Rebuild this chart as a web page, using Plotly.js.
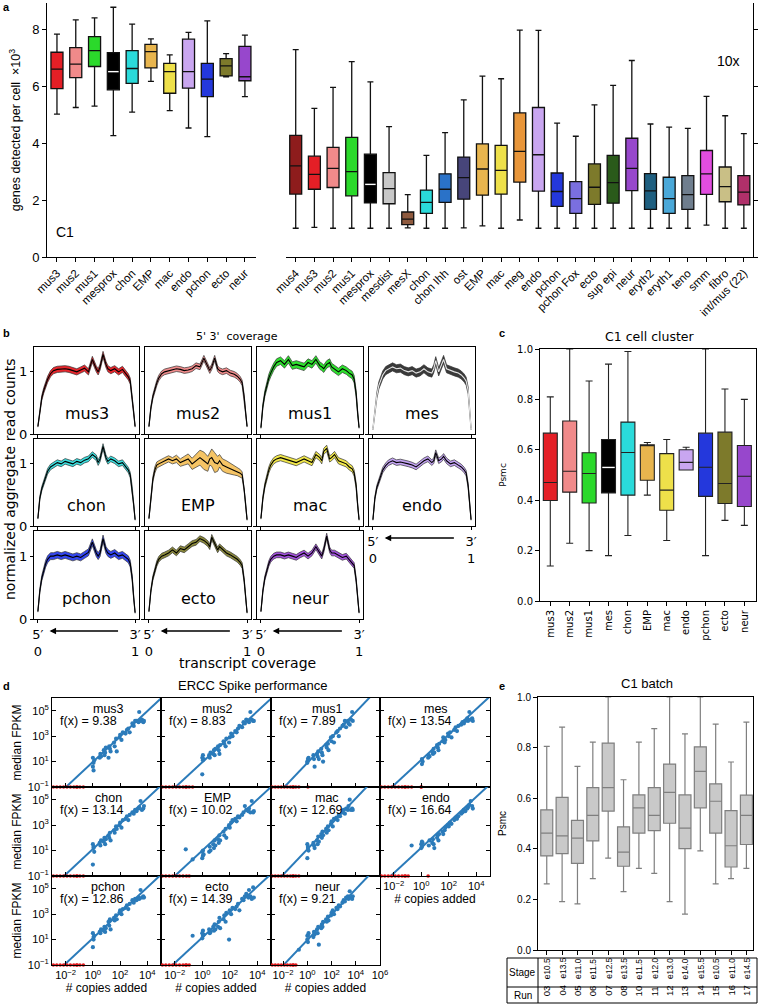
<!DOCTYPE html>
<html><head><meta charset="utf-8">
<script src="https://cdn.plot.ly/plotly-3.0.1.min.js"></script>
<style>html,body{margin:0;padding:0;background:#fff}#chart{width:758px;height:1007px}</style>
</head><body><div id="chart"></div>
<script>
// ---------------- DATA ----------------
// Panel a (left, C1): genes detected per cell x10^3
const aLeftCats  = ['mus3','mus2','mus1','mesprox','chon','EMP','mac','endo','pchon','ecto','neur'];
const aLeftUpper = [7.83,8.33,8.40,8.77,8.18,7.66,7.10,7.89,8.29,7.14,7.79];
const aLeftQ3    = [7.19,7.35,7.74,7.18,7.25,7.47,6.80,7.65,6.80,6.97,7.40];
const aLeftMed   = [6.60,6.77,7.25,6.51,6.62,7.21,6.51,6.51,6.25,6.71,6.33];
const aLeftQ1    = [5.91,6.30,6.69,5.87,6.10,6.64,5.75,5.93,5.63,6.36,6.19];
const aLeftLower = [5.02,5.25,5.30,4.26,5.09,6.17,5.14,4.53,4.23,6.33,5.63];
const aLeftColors= ['#e41f26','#f08a8a','#2bd92b','#000000','#2adada','#e8b54e','#eee04a','#c9a6f0','#2438dc','#7d7a2b','#9747cc'];

// Panel a (right, 10x)
const aRightCats  = ['mus4','mus3','mus2','mus1','mesprox','mesdist','mesX','chon','chon Ihh','ost','EMP','mac','meg','endo','pchon','pchon Fox','ecto','sup epi','neur','eryth2','eryth1','teno','smm','fibro','int/mus (22)'];
const aRightUpper = [7.28,5.22,5.96,6.86,6.15,4.58,2.19,3.57,4.37,5.52,6.35,6.26,7.97,7.96,4.70,4.24,5.34,6.03,6.90,4.67,4.56,4.52,5.64,4.96,4.33];
const aRightQ3    = [4.27,3.54,3.85,4.20,3.61,2.96,1.58,2.35,2.92,3.51,3.97,3.92,5.06,5.25,2.95,2.65,3.27,3.57,4.17,2.93,2.80,2.86,3.74,3.16,2.86];
const aRightMed   = [3.20,2.90,3.11,3.00,2.55,2.40,1.33,1.92,2.38,2.79,3.09,3.04,3.71,3.59,2.30,2.05,2.45,2.61,3.11,2.32,2.05,2.19,2.92,2.47,2.28];
const aRightQ1    = [2.21,2.38,2.44,2.15,1.90,1.87,1.14,1.53,1.92,2.03,2.17,2.21,2.63,2.31,1.78,1.53,1.85,1.89,2.33,1.67,1.53,1.67,2.20,1.94,1.83];
const aRightLower = [1.01,1.04,1.01,1.01,1.01,1.01,1.02,1.01,1.01,1.02,1.09,1.01,1.30,1.01,1.01,1.01,1.01,1.01,1.01,1.01,1.01,1.01,1.12,1.01,1.01];
const aRightColors= ['#8e1c1c','#e41f26','#f08a8a','#2bd92b','#000000','#c8c8c8','#8f5a3e','#2adada','#2a72c8','#47457a','#e8b54e','#eee04a','#e8963a','#c9a6f0','#2438dc','#7a6fe0','#7d7a2b','#2a5a1a','#9747cc','#1e5f80','#4aa8d8','#6f7e8e','#e24de0','#c9bf86','#b0306a'];

// Panel b: 5'-3' coverage (transcript position 0..1)
const bNames  = ['mus3','mus2','mus1','mes','chon','EMP','mac','endo','pchon','ecto','neur'];
const bColors = ['#e8262c','#f08c8c','#2ee02e','#3a3a3a','#3ce0e0','#f5c465','#f2e84a','#c3a3f2','#3346ee','#8c8a3c','#a352de'];
const bPos = [0,0.02,0.04,0.06,0.08,0.1,0.13,0.16,0.2,0.24,0.28,0.32,0.36,0.4,0.44,0.48,0.52,0.56,0.6,0.62,0.64,0.67,0.7,0.72,0.75,0.79,0.83,0.87,0.9,0.93,0.95,0.97,0.985,1.0];
const covMus3 = [0.12,0.4,0.58,0.7,0.8,0.88,0.97,1.02,1.04,1.05,1.05,1.04,1.02,1.0,1.03,1.06,1.0,1.2,1.05,1.0,1.08,1.28,1.12,1.05,1.02,1.05,1.0,1.04,0.98,0.92,0.85,0.6,0.35,0.12];
const covMus2 = [0.12,0.42,0.6,0.72,0.82,0.9,0.97,1.0,1.02,1.03,1.05,1.04,1.02,1.03,1.05,1.1,1.08,1.22,1.1,1.02,1.08,1.22,1.05,1.02,1.0,1.02,0.98,0.96,0.93,0.88,0.82,0.6,0.35,0.12];
const covMus1 = [0.1,0.45,0.65,0.8,0.9,0.98,1.08,1.15,1.18,1.12,1.2,1.1,1.12,1.1,1.08,1.15,1.12,1.2,1.1,1.08,1.05,1.12,1.15,1.08,1.05,1.0,1.05,1.02,0.98,0.95,0.88,0.65,0.35,0.1];
const covMes  = [0.08,0.4,0.62,0.78,0.88,0.95,1.02,1.05,1.08,1.05,1.06,1.02,1.0,1.02,0.98,1.0,1.05,1.0,0.98,1.05,1.18,1.0,1.12,1.2,1.05,1.02,1.0,0.98,0.95,0.9,0.85,0.7,0.35,0.08];
const covChon = [0.12,0.45,0.6,0.7,0.8,0.88,0.95,0.98,1.02,1.0,1.04,1.02,1.0,1.04,1.02,1.06,1.08,1.15,1.1,1.02,1.08,1.28,1.1,1.04,1.08,1.05,1.0,1.02,0.95,0.9,0.82,0.6,0.35,0.1];
const covEMP  = [0.12,0.5,0.75,0.9,0.98,1.0,1.02,1.05,1.08,1.05,1.08,1.02,1.05,1.08,1.0,1.05,1.1,1.05,1.0,1.08,1.1,1.02,1.0,1.05,0.98,0.95,0.92,0.9,0.88,0.85,0.82,0.6,0.35,0.1];
const covMac  = [0.12,0.45,0.65,0.8,0.9,0.98,1.05,1.08,1.1,1.08,1.06,1.05,1.02,1.05,1.08,1.05,1.02,1.15,1.1,1.05,1.2,1.25,1.08,1.1,1.15,1.05,1.02,1.0,0.95,0.92,0.85,0.65,0.35,0.1];
const covEndo = [0.1,0.45,0.62,0.72,0.82,0.9,0.97,1.02,1.05,1.02,1.03,1.02,1.0,0.98,0.95,1.0,1.05,1.08,1.02,1.05,1.18,1.05,1.08,1.12,1.05,1.0,1.02,0.98,0.95,0.9,0.85,0.65,0.35,0.1];
const covPchon= [0.12,0.45,0.65,0.78,0.88,0.95,1.0,1.0,1.02,1.0,1.02,1.0,0.98,1.0,0.98,1.02,1.06,1.22,1.05,1.0,1.05,1.28,1.1,1.05,1.02,1.05,1.0,1.02,0.98,0.95,0.88,0.65,0.35,0.1];
const covEcto = [0.12,0.45,0.65,0.78,0.88,0.95,1.0,1.02,1.05,1.1,1.05,1.12,1.1,1.15,1.2,1.22,1.28,1.25,1.2,1.15,1.3,1.2,1.1,1.15,1.1,1.05,1.02,0.98,0.95,0.9,0.85,0.62,0.35,0.1];
const covNeur = [0.12,0.45,0.65,0.78,0.88,0.95,1.0,1.02,1.02,1.0,1.02,1.0,0.98,1.02,1.05,1.0,1.05,1.15,1.05,1.0,1.1,1.32,1.1,1.05,1.05,1.02,0.98,1.0,0.95,0.9,0.85,0.62,0.35,0.1];
const bandShape = [0.2,0.6,0.8,0.9, 1,1,1,1,1, 1,1,1,1,1, 1,1,1,1,1, 1,1,1,1,1, 1,1,1,1,1, 1,1, 0.9,0.6,0.2];
const bSpread = [0.05,0.045,0.06,0.065,0.045,0,0.05,0.045,0.055,0.045,0.045];
const bandEMP = [0.01,0.03,0.04,0.05,0.05,0.05,0.05,0.05,0.05,0.05,0.06,0.06,0.07,0.08,0.09,0.1,0.12,0.14,0.12,0.1,0.14,0.16,0.12,0.1,0.1,0.1,0.09,0.08,0.07,0.06,0.05,0.04,0.03,0.01];

// Panel c: Psmc per C1 cluster
const cCats  = ['mus3','mus2','mus1','mes','chon','EMP','mac','endo','pchon','ecto','neur'];
const cUpper = [0.81,1.0,0.873,0.94,0.99,0.629,0.641,0.61,1.0,0.841,0.80];
const cQ3    = [0.666,0.714,0.588,0.641,0.71,0.62,0.585,0.60,0.666,0.67,0.617];
const cMed   = [0.47,0.515,0.506,0.53,0.589,0.62,0.44,0.55,0.531,0.466,0.495];
const cQ1    = [0.399,0.432,0.389,0.429,0.42,0.479,0.36,0.52,0.415,0.387,0.375];
const cLower = [0.139,0.229,0.2,0.18,0.26,0.42,0.24,0.52,0.18,0.32,0.30];
const cColors= ['#e41f26','#f08a8a','#2bd92b','#000000','#2adada','#e8b54e','#eee04a','#c9a6f0','#2438dc','#7d7a2b','#9747cc'];

// Panel d: ERCC spike-ins (log10 copies added / log10 median FPKM, null = not detected)
const dNames = ['mus3','mus2','mus1','mes','chon','EMP','mac','endo','pchon','ecto','neur'];
const dSlope = [9.38,8.83,7.89,13.54,13.14,10.02,12.69,16.64,12.86,14.39,9.21];
const erccUndetLog10 = [-2.9,-2.65,-2.4,-2.15,-1.9,-1.65,-1.4,-1.15,-0.95];
const erccLog10Copies = [-1.2,-0.7, 0.0,0.0,0.05,0.05,0.1, 0.5,0.55,0.6, 0.8,0.85,0.9,0.95, 1.15,1.2,1.25,1.3, 1.55,1.6,1.7,1.75, 1.95,2.0,2.1,2.2, 2.4,2.5,2.6,2.7, 2.9,3.0,3.1,3.2, 3.35,3.4,3.5,3.6,3.7,3.75];
const fpkmMus3 = [null,null, 1.3,0.6,0.9,0.3,1.1, 1.3,1.6,1.4, 1.9,1.5,1.7,2.1, 1.3,2.2,2.0,1.8, 2.5,2.2,2.8,1.8, 2.9,3.1,2.7,3.3, 3.2,3.5,3.6,3.3, 4.0,3.8,4.2,4.2, 4.1,4.9,4.2,4.3,4.1,4.2];
const fpkmMus2 = [null,null, 1.3,0.0,1.1,1.5,1.2, 1.5,1.3,1.7, 1.6,1.9,1.5,2.0, 2.2,1.9,1.6,2.3, 2.6,2.4,2.2,2.8, 2.5,2.9,3.2,3.0, 3.4,3.3,3.6,3.8, 3.7,4.1,4.0,4.3, 4.2,4.1,4.9,4.3,4.2,4.2];
const fpkmMus1 = [null,null, 0.9,1.0,1.2,null,1.3, 1.5,1.2,0.6, 1.6,1.4,1.8,1.2, 2.0,1.7,1.5,1.0, 2.3,2.1,2.4,1.9, 2.9,2.6,3.0,2.5, 3.3,3.4,3.0,3.6, 3.8,3.9,4.2,3.7, 4.2,4.0,3.9,4.3,4.9,4.2];
const fpkmMes  = [null,null, null,null,1.2,0.8,1.0, 1.3,1.5,1.4, 1.8,1.6,2.0,1.7, 2.3,2.1,1.9,2.4, 2.6,2.9,2.5,2.7, 3.2,3.0,3.3,2.9, 3.5,3.7,3.4,3.8, 3.9,4.1,4.0,4.2, 4.4,4.2,4.9,4.3,4.4,4.2];
const fpkmChon = [null,null, 1.5,-0.1,1.2,1.3,0.9, 1.6,1.4,1.8, 1.7,2.0,1.5,1.9, 2.2,2.0,2.4,1.8, 2.6,2.4,2.9,2.7, 3.0,3.2,2.8,3.4, 3.5,3.7,3.4,3.8, 4.0,3.9,4.2,4.1, 4.3,4.4,4.9,4.2,4.3,4.5];
const fpkmEMP  = [1.1,0.3, 0.4,0.9,0.6,1.0,0.7, 0.9,1.3,1.0, 1.5,1.2,1.8,1.4, 1.9,1.6,2.2,1.8, 2.5,2.2,2.7,2.0, 3.0,2.8,3.2,3.4, 3.5,3.3,3.7,3.6, 3.8,4.0,4.5,4.2, 4.1,4.3,4.0,4.9,4.0,4.1];
const fpkmMac  = [null,null, 1.5,0.4,1.2,1.3,1.0, 1.6,1.4,1.2, 1.8,1.5,2.1,1.7, 2.3,2.0,2.5,2.2, 2.7,2.4,2.9,2.6, 3.1,3.3,2.9,3.5, 3.6,3.4,3.8,3.7, 4.0,4.2,3.9,4.3, 4.2,4.5,5.0,4.2,4.3,4.2];
const fpkmEndo = [null,1.4, 1.5,1.2,1.7,1.3,1.6, null,1.4,1.8, 1.6,1.9,1.5,1.2, 2.0,2.2,1.8,2.3, 2.5,2.3,2.6,2.8, 3.0,2.9,3.2,3.1, 3.4,3.6,3.5,3.7, 3.9,4.0,4.2,4.1, 4.3,4.4,4.6,4.9,4.5,4.3];
const fpkmPchon= [null,null, 1.5,0.4,1.2,1.0,1.3, 1.6,1.5,1.8, 1.7,2.0,1.6,1.9, 2.4,2.1,2.6,1.8, 2.7,2.5,2.9,2.6, 3.1,3.3,3.0,3.4, 3.5,3.7,3.4,3.8, 4.1,3.9,4.2,4.1, 4.3,4.2,4.9,4.3,4.4,4.3];
const fpkmEcto = [null,1.3, 1.5,1.1,1.7,1.3,1.4, 1.8,1.5,1.6, 2.0,1.7,2.2,1.8, 2.0,2.4,2.7,1.9, 2.6,2.9,2.4,3.1, 1.0,3.3,3.0,3.5, 3.4,3.6,3.8,3.3, 4.2,4.1,4.4,4.6, 4.3,4.9,4.4,4.2,5.1,4.3];
const fpkmNeur = [null,0.2, 1.0,1.3,1.3,0.8,1.5, 1.2,1.6,1.4, 1.8,1.5,2.0,0.6, 1.9,2.2,2.0,2.4, 2.6,2.4,2.8,2.5, 2.9,3.1,3.3,3.0, 3.5,3.4,3.7,3.6, 3.9,4.1,4.0,4.3, 4.4,4.2,4.8,4.3,4.2,4.4];

// Panel e: Psmc per C1 run
const eRun   = ['03','04','05','06','07','08','10','11','12','13','14','15','16','17'];
const eStage = ['e10.5','e13.5','e11.0','e11.5','e12.5','e13.5','e11.5','e12.0','e13.0','e14.0','e15.5','e10.5','e11.0','e14.5'];
const eUpper = [0.805,0.881,0.726,0.822,1.0,0.673,0.822,0.875,1.0,0.854,1.0,0.893,0.743,0.901];
const eQ3    = [0.554,0.603,0.512,0.642,0.818,0.487,0.613,0.642,0.735,0.613,0.803,0.657,0.551,0.612];
const eMed   = [0.462,0.451,0.442,0.532,0.642,0.387,0.562,0.532,0.623,0.482,0.706,0.588,0.412,0.532];
const eQ1    = [0.372,0.381,0.342,0.431,0.549,0.331,0.462,0.472,0.501,0.401,0.562,0.462,0.328,0.417];
const eLower = [0.261,0.191,0.182,0.282,0.363,0.231,0.323,0.303,0.191,0.142,0.392,0.261,0.282,0.323];

// ---------------- BUILD ----------------
const W=758,H=1007;
const fx=p=>p/W, fy=p=>1-p/H;
const SANS='Liberation Sans, Arial, sans-serif', DJ='DejaVu Sans, sans-serif';
const layout={width:W,height:H,margin:{l:0,r:0,t:0,b:0,pad:0},showlegend:false,
  paper_bgcolor:'#fff',plot_bgcolor:'rgba(0,0,0,0)',annotations:[],shapes:[],
  font:{family:SANS,color:'#000'}};
const data=[];
let nAx=0;
const base={showgrid:false,zeroline:false,showline:true,linecolor:'#000',linewidth:1,ticks:'outside',
  ticklen:4,tickwidth:1,tickcolor:'#000',fixedrange:true,automargin:false};
function mkAxes(x0,x1,y0,y1,xo,yo){
  nAx++; const id=nAx===1?'':String(nAx);
  layout['xaxis'+id]=Object.assign({},base,{domain:[fx(x0),fx(x1)],anchor:'y'+id},xo);
  layout['yaxis'+id]=Object.assign({},base,{domain:[fy(y1),fy(y0)],anchor:'x'+id},yo);
  return {x:'x'+id,y:'y'+id};
}
function ann(o){layout.annotations.push(Object.assign({showarrow:false,xref:'paper',yref:'paper'},o));}
function txt(px,py,text,size,fam,extra){
  ann(Object.assign({x:fx(px),y:fy(py),text:text,font:{size:size,family:fam,color:'#000'},xanchor:'center',yanchor:'middle'},extra||{}));
}
function addBox(ax,i,lo,q1,med,q3,hi,fill,edge,w,lw){
  data.push({type:'box',xaxis:ax.x,yaxis:ax.y,x:[i],q1:[q1],median:[med],q3:[q3],lowerfence:[lo],upperfence:[hi],
    fillcolor:fill,line:{color:edge,width:lw},width:w,whiskerwidth:0.5,boxpoints:false,hoverinfo:'skip'});
  if(fill==='#000000'){
    data.push({type:'scatter',mode:'lines',xaxis:ax.x,yaxis:ax.y,x:[i-w/2+0.04,i+w/2-0.04],y:[med,med],line:{color:'#fff',width:1.4},hoverinfo:'skip'});
  }
}
const idx=a=>a.map((_,i)=>i);

// ---- Panel a left ----
const aL=mkAxes(47,256,3,257,
  {range:[-0.53,10.59],tickvals:idx(aLeftCats),ticktext:aLeftCats,tickangle:-45,tickfont:{size:11.5,family:SANS}},
  {range:[0,8.92],tickvals:[0,2,4,6,8],tickfont:{size:13,family:SANS},
   title:{text:'genes detected per cell  ×10<sup>3</sup>',font:{size:12.5,family:SANS},standoff:8}});
aLeftCats.forEach((c,i)=>addBox(aL,i,aLeftLower[i],aLeftQ1[i],aLeftMed[i],aLeftQ3[i],aLeftUpper[i],aLeftColors[i],'#111',0.64,1.3));
// ---- Panel a right ----
const aR=mkAxes(286,753,3,257,
  {range:[-0.52,24.49],tickvals:idx(aRightCats),ticktext:aRightCats,tickangle:-45,tickfont:{size:11.5,family:SANS}},
  {side:'right',range:[0,8.92],tickvals:[0,2,4,6,8],showticklabels:false});
aRightCats.forEach((c,i)=>addBox(aR,i,aRightLower[i],aRightQ1[i],aRightMed[i],aRightQ3[i],aRightUpper[i],aRightColors[i],'#111',0.64,1.3));
txt(6,7,'<b>a</b>',11,SANS);
txt(65,232,'C1',14,SANS);
txt(728,61,'10x',14,SANS);

// ---- Panel b ----
const bCols=[[34,139],[145,251],[257,363],[369,475]], bRows=[[347,434],[439,526],[531,619]];
const bCov=[covMus3,covMus2,covMus1,covMes,covChon,covEMP,covMac,covEndo,covPchon,covEcto,covNeur];
bNames.forEach((nm,k)=>{
  const r=Math.floor(k/4), c=k%4;
  const showX=(r===2||nm==='endo');
  const ax=mkAxes(bCols[c][0],bCols[c][1],bRows[r][0],bRows[r][1],
    {range:[-0.04,1.04],tickvals:[0,1],ticktext:['5′<br>0','3′<br>1'],showticklabels:showX,mirror:true,ticklen:3,tickfont:{size:13,family:DJ}},
    {range:[0,1.4],tickvals:[0,1],showticklabels:c===0,mirror:true,ticklen:3,tickfont:{size:13,family:DJ}});
  const m=bCov[k];
  const hw=nm==='EMP'?bandEMP:bandShape.map(s=>s*bSpread[k]);
  const up=m.map((v,j)=>v+hw[j]), lo=m.map((v,j)=>v-hw[j]);
  data.push({type:'scatter',mode:'lines',xaxis:ax.x,yaxis:ax.y,x:bPos,y:up,line:{color:'#333',width:0.7},hoverinfo:'skip'});
  data.push({type:'scatter',mode:'lines',xaxis:ax.x,yaxis:ax.y,x:bPos,y:lo,fill:'tonexty',fillcolor:bColors[k],line:{color:'#333',width:0.7},hoverinfo:'skip'});
  data.push({type:'scatter',mode:'lines',xaxis:ax.x,yaxis:ax.y,x:bPos,y:m,line:{color:nm==='mes'?'#e6e6e6':'#000',width:1.1},hoverinfo:'skip'});
  ann({xref:ax.x,yref:ax.y,x:0.5,y:0.33,text:nm,font:{size:16,family:DJ,color:'#000'}});
  if(showX){
    const yb=bRows[r][1]+12;
    layout.annotations.push({xref:ax.x,yref:'paper',x:0.12,y:fy(yb),axref:ax.x,ax:0.84,ayref:'pixel',ay:0,
      text:'',showarrow:true,arrowhead:2,arrowsize:1,arrowwidth:1.3,arrowcolor:'#000'});
  }
});
txt(6,333,'<b>b</b>',11,SANS);
txt(237,336,"5' 3'  coverage",11,DJ);
txt(247,663,'transcript coverage',14,DJ);
txt(10,480,'normalized aggregate read counts',14,DJ,{textangle:-90});

// ---- Panel c ----
const aC=mkAxes(540,756,349,601,
  {range:[-0.53,10.6],tickvals:idx(cCats),ticktext:cCats,tickangle:-90,tickfont:{size:10,family:DJ},mirror:true},
  {range:[0,1],tickvals:[0,0.2,0.4,0.6,0.8,1],ticktext:['0.0','0.2','0.4','0.6','0.8','1.0'],tickfont:{size:10,family:DJ},mirror:true,
   title:{text:'Psmc',font:{size:9,family:DJ},standoff:8}});
cCats.forEach((c,i)=>addBox(aC,i,cLower[i],cQ1[i],cMed[i],cQ3[i],cUpper[i],cColors[i],'#222',0.72,1.1));
txt(502,333,'<b>c</b>',11,SANS);
txt(650,336,'C1 cell cluster',12.5,DJ);

// ---- Panel d ----
const dCols=[[52,161],[161,271],[271,380],[380,490]], dRows=[[698,787],[787,876],[876,965]];
const dY=[fpkmMus3,fpkmMus2,fpkmMus1,fpkmMes,fpkmChon,fpkmEMP,fpkmMac,fpkmEndo,fpkmPchon,fpkmEcto,fpkmNeur];
const sup=v=>'10<sup>'+(v<0?'−'+(-v):v)+'</sup>';
dNames.forEach((nm,k)=>{
  const r=Math.floor(k/4), c=k%4;
  const showX=(r===2||nm==='endo');
  const xr=c===2?[-3,6]:[-3,5];
  const xt=c===2?[-2,0,2,4,6]:[-2,0,2,4];
  const xo={type:'log',range:xr,tickvals:xt.map(v=>Math.pow(10,v)),ticktext:xt.map(sup),showticklabels:showX,ticks:'inside',mirror:true,
     tickfont:{size:11,family:SANS}};
  if(showX) xo.title={text:'# copies added',font:{size:12,family:SANS},standoff:3};
  const yo={type:'log',range:[-1,6],tickvals:[0.1,10,1000,1e5],ticktext:[-1,1,3,5].map(sup),showticklabels:c===0,ticks:'inside',mirror:'ticks',
     tickfont:{size:11,family:SANS}};
  if(c===0) yo.title={text:'median FPKM',font:{size:12,family:SANS},standoff:3};
  const ax=mkAxes(dCols[c][0],dCols[c][1],dRows[r][0],dRows[r][1],xo,yo);
  const f=dSlope[k];
  data.push({type:'scatter',mode:'lines',xaxis:ax.x,yaxis:ax.y,x:[1e-4,1e7],y:[f*1e-4,f*1e7],line:{color:'#2b7bba',width:2},hoverinfo:'skip'});
  const dx=[],dy=[],ux=erccUndetLog10.map(v=>Math.pow(10,v));
  erccLog10Copies.forEach((lx,j)=>{const v=dY[k][j]; if(v===null) ux.push(Math.pow(10,lx)); else {dx.push(Math.pow(10,lx)); dy.push(Math.pow(10,v));}});
  data.push({type:'scatter',mode:'markers',xaxis:ax.x,yaxis:ax.y,x:dx,y:dy,marker:{color:'#2b7bba',size:4.2},hoverinfo:'skip'});
  data.push({type:'scatter',mode:'markers',xaxis:ax.x,yaxis:ax.y,x:ux,y:ux.map(()=>0.1),cliponaxis:false,marker:{color:'#e0191c',size:3.6},hoverinfo:'skip'});
  const L=dCols[c][0], T=dRows[r][0];
  txt(L+56,T+11,nm,12.5,SANS);
  txt(L+6,T+23,'f(x) = '+f.toFixed(2),12.5,SANS,{xanchor:'left'});
});
txt(6,686,'<b>d</b>',11,SANS);
txt(253,685,'ERCC Spike performance',13,SANS);

// ---- Panel e ----
const aE=mkAxes(538,753,697,950,
  {range:[-0.57,13.43],tickvals:idx(eRun),showticklabels:false,mirror:true},
  {range:[0,1],tickvals:[0,0.2,0.4,0.6,0.8,1],ticktext:['0.0','0.2','0.4','0.6','0.8','1.0'],tickfont:{size:10,family:SANS},mirror:true,
   title:{text:'Psmc',font:{size:10,family:SANS},standoff:8}});
eRun.forEach((c,i)=>addBox(aE,i,eLower[i],eQ1[i],eMed[i],eQ3[i],eUpper[i],'#c9c9c9','#7f7f7f',0.78,1.2));
eRun.forEach((c,i)=>{
  ann({xref:aE.x,yref:'paper',x:i,y:fy(981),text:eStage[i],textangle:-90,font:{size:8.4,family:SANS,color:'#000'}});
  ann({xref:aE.x,yref:'paper',x:i,y:fy(998),text:eRun[i],textangle:-90,font:{size:9.5,family:SANS,color:'#000'}});
});
layout.shapes.push({type:'rect',xref:'paper',yref:'paper',x0:fx(507),x1:fx(757),y0:fy(1003),y1:fy(958),line:{color:'#000',width:1}});
layout.shapes.push({type:'line',xref:'paper',yref:'paper',x0:fx(507),x1:fx(757),y0:fy(987),y1:fy(987),line:{color:'#000',width:1}});
layout.shapes.push({type:'line',xref:'paper',yref:'paper',x0:fx(538),x1:fx(538),y0:fy(958),y1:fy(1003),line:{color:'#000',width:1}});
txt(522.5,972.5,'Stage',10,SANS);
txt(522.5,995.5,'Run',10,SANS);
txt(502,686,'<b>e</b>',11,SANS);
txt(647,683,'C1 batch',13,SANS);

Plotly.newPlot('chart',data,layout,{staticPlot:true,displayModeBar:false});
</script></body></html>
